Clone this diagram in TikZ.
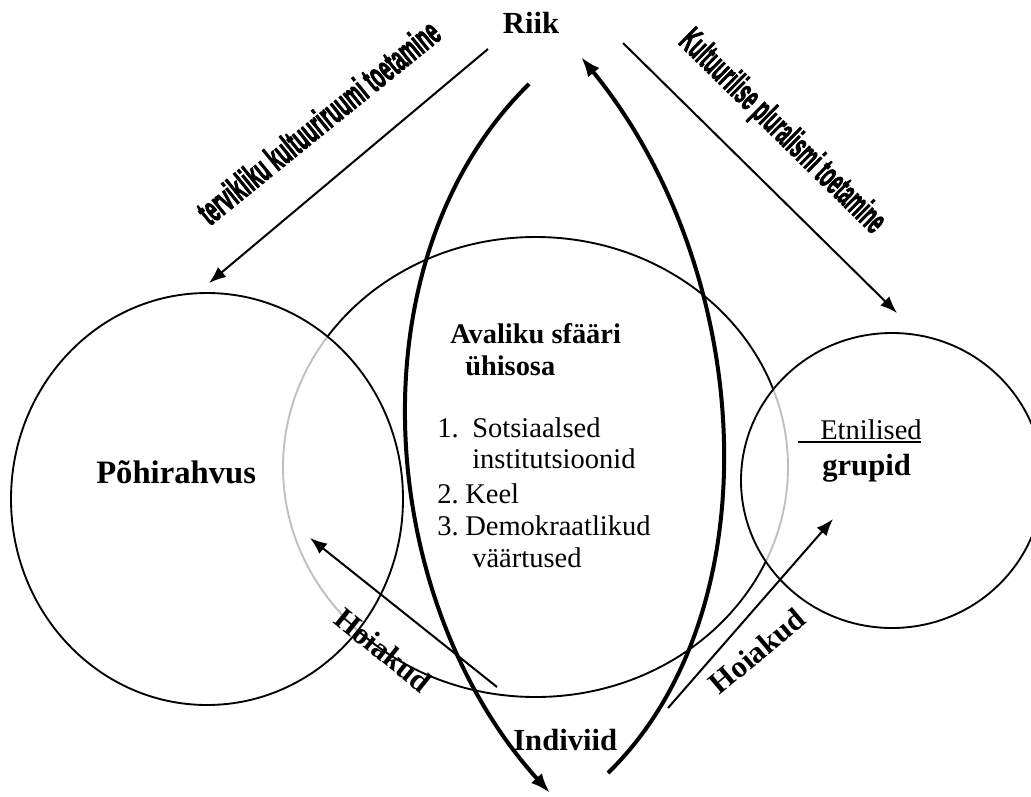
\documentclass[tikz,border=0pt]{standalone}
\usepackage{fontspec}
\setmainfont{Liberation Serif}
\newfontfamily\wordart[FakeBold=3]{Liberation Sans}
\usetikzlibrary{positioning, arrows.meta, shapes.geometric}

\begin{document}
\begin{tikzpicture}[x=0.75pt, y=-0.75pt,
    ring/.style={ellipse, draw=black, line width=1.4pt, inner sep=0pt},
    bubble/.style={ellipse, draw=black, line width=1.4pt, fill=white, fill opacity=0.75, inner sep=0pt},
    arrowline/.style={line width=1.5pt, -{Latex[length=12.75pt, width=9.75pt]}},
    bowline/.style={line width=3pt, -{Latex[length=15pt, width=11pt]}},
    bigtext/.style={font=\fontsize{23}{27}\selectfont\bfseries, inner sep=0pt},
    listtext/.style={font=\fontsize{21.4}{24}\selectfont, inner sep=0pt, anchor=base west},
    slanttext/.style={font=\wordart\bfseries, inner sep=0pt, anchor=base}
]
\useasboundingbox (0,0) rectangle (1031,796);

% shared public sphere and the two groups
\node[ring, minimum width=378.75pt, minimum height=345pt](avalik) at (535.5,467){};
\node[bubble, minimum width=294pt, minimum height=309pt](pohi) at (207,499){};
\node[bubble, minimum width=226.5pt, minimum height=221.25pt](etn) at (892,480.5){};

% labels
\node[bigtext, anchor=base](riik) at (531,33){Riik};
\node[bigtext, anchor=base west, font=\fontsize{24.5}{28}\selectfont\bfseries](pohitxt) at (96,483){Põhirahvus};
\node[listtext](etntxt) at (798,439){\rlap{\rule[-3pt]{92.25pt}{1.5pt}}\hspace{16.5pt}Etnilised};
\node[bigtext, anchor=base west](grupid) at (822,475){grupid};
\node[bigtext, anchor=base west](indiviid) at (513,750){Indiviid};

\node[listtext, font=\fontsize{21.3}{24}\selectfont\bfseries](avtitle) at (450,343){Avaliku sfääri};
\node[listtext, font=\fontsize{21.3}{24}\selectfont\bfseries](avtitle2) at (465,375){ühisosa};
\node[listtext](item1) at (437,437){\makebox[26.25pt][l]{1.}Sotsiaalsed};
\node[listtext](item1b) at (472,468){institutsioonid};
\node[listtext](item2) at (437,503){\makebox[21pt][l]{2.}Keel};
\node[listtext](item3) at (437,535){\makebox[21pt][l]{3.}Demokraatlikud};
\node[listtext](item3b) at (472,567){väärtused};

\node[slanttext, rotate=39](tervik) at (326.5,132){\resizebox{225pt}{19.5pt}{tervikliku kultuuriruumi toetamine}};
\node[slanttext, rotate=-44.5](plural) at (775,139){\resizebox{205pt}{19.5pt}{Kultuurilise pluralismi toetamine}};
\node[bigtext, rotate=-39](hoiak1) at (383,650){Hoiakud};
\node[bigtext, rotate=40](hoiak2) at (757,651){Hoiakud};

% connectors
\coordinate (riikL) at (488,49);
\coordinate (pohitop) at (209,283);
\coordinate (riikR) at (623,43);
\coordinate (etntop) at (897,313);
\draw[arrowline] (riikL) -- (pohitop);
\draw[arrowline] (riikR) -- (etntop);

\coordinate (downstart) at (529,84);
\coordinate (downend) at (550,793);
\coordinate (upstart) at (608,773);
\coordinate (upend) at (581,57);
\draw[bowline] (downstart) .. controls (350,260) and (375,600) .. (downend);
\draw[bowline] (upstart) .. controls (775,610) and (755,270) .. (upend);

\coordinate (hoiakL) at (497,687);
\coordinate (pohiin) at (310,538);
\coordinate (hoiakR) at (668,708);
\coordinate (etnin) at (833,519);
\draw[arrowline] (hoiakL) -- (pohiin);
\draw[arrowline] (hoiakR) -- (etnin);
\end{tikzpicture}
\end{document}
